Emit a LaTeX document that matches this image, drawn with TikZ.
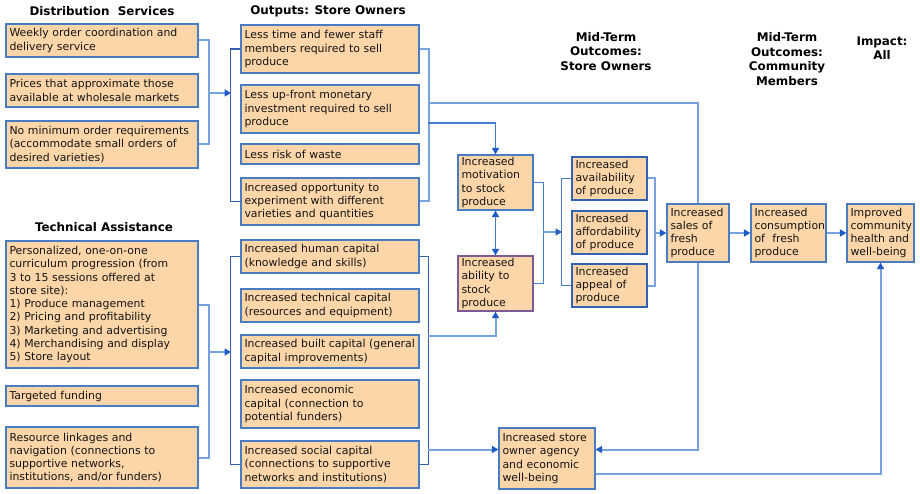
\documentclass[tikz,border=0pt]{standalone}
\usepackage{fontspec}
\setmainfont{DejaVu Sans}
\usetikzlibrary{arrows.meta}
\definecolor{peach}{RGB}{252,214,168}
\definecolor{bord}{RGB}{74,124,196}
\definecolor{bordd}{RGB}{50,98,180}
\definecolor{lnl}{RGB}{118,162,222}
\definecolor{lnm}{RGB}{70,125,205}
\definecolor{lndc}{RGB}{55,95,175}
\definecolor{arrb}{RGB}{30,91,198}
\definecolor{purp}{RGB}{123,91,149}
\definecolor{txt}{RGB}{20,20,20}
\newcommand\boxfont{\fontsize{10.9}{13.25}\selectfont}
\newcommand\hdrfont{\bfseries\fontsize{11.9}{14.5}\selectfont}
\newcommand\bx[7][]{%
 \pgfmathsetmacro\myBoxW{#5-#3}\pgfmathsetmacro\myBoxH{#6-#4}\pgfmathsetmacro\myBoxT{#5-#3-7}%
 \pgfmathsetmacro\myBoxX{(#3+#5)/2}\pgfmathsetmacro\myBoxY{(#4+#6)/2}%
 \node[box,minimum width=\myBoxW pt,minimum height=\myBoxH pt,text width=\myBoxT pt,#1] (#2) at (\myBoxX,\myBoxY) {#7};}
\tikzset{
 box/.style={draw=bord, line width=1.2pt, fill=peach, inner xsep=3.5pt, inner ysep=1pt, align=left,
   font=\boxfont, text=txt},
 hdr/.style={font=\hdrfont, align=center, text=black},
 ln/.style={draw=lnl, line width=2pt},
 lnmid/.style={draw=lnm, line width=1.6pt},
 lnd/.style={draw=lndc, line width=1.2pt},
 arr/.style={-{Triangle[length=6.5pt,width=7pt,color=arrb]}},
 darr/.style={{Triangle[length=6.5pt,width=7pt,color=arrb]}-{Triangle[length=6.5pt,width=7pt,color=arrb]}}
}
\hyphenpenalty=10000
\exhyphenpenalty=10000
\begin{document}
\begin{tikzpicture}[x=1pt,y=-1pt]
\useasboundingbox (0,0) rectangle (920,494);
\fill[white] (0,0) rectangle (920,494);
% headers
\node[hdr] (h1) at (102,11) {Distribution\ \ Services};
\node[hdr] (h2) at (328,11) {Outputs: Store Owners};
\node[hdr] (h3) at (104,227) {Technical Assistance};
\node[hdr] (h4) at (606,51.5) {Mid-Term\\Outcomes:\\Store Owners};
\node[hdr] (h5) at (787,59) {Mid-Term\\Outcomes:\\Community\\Members};
\node[hdr] (h6) at (882,48) {Impact:\\All};
% distribution services
\bx{d1}{6}{24}{198}{57}{Weekly order coordination and\\delivery service}
\bx{d2}{6}{74}{198}{107}{Prices that approximate those\\available at wholesale markets}
\bx{d3}{6}{121}{198}{168}{No minimum order requirements\\(accommodate small orders of\\desired varieties)}
% outputs store owners
\bx{o1}{241}{25}{419}{73}{Less time and fewer staff\\members required to sell\\produce}
\bx{o2}{241}{85}{419}{133}{Less up-front monetary\\investment required to sell\\produce}
\bx{o3}{241}{144}{419}{164}{Less risk of waste}
\bx{o4}{241}{178}{419}{225}{Increased opportunity to\\experiment with different\\varieties and quantities}
% technical assistance
\bx{ta1}{6}{241}{198}{368}{Personalized, one-on-one\\curriculum progression (from\\3 to 15 sessions offered at\\store site):\\1) Produce management\\2) Pricing and profitability\\3) Marketing and advertising\\4) Merchandising and display\\5) Store layout}
\bx{ta2}{6}{386}{198}{406}{Targeted funding}
\bx{ta3}{6}{427}{198}{488}{Resource linkages and\\navigation (connections to\\supportive networks,\\institutions, and/or funders)}
% technical outputs
\bx{t1}{241}{240}{419}{273}{Increased human capital\\(knowledge and skills)}
\bx{t2}{241}{289}{419}{322}{Increased technical capital\\(resources and equipment)}
\bx{t3}{241}{335}{419}{368}{Increased built capital (general\\capital improvements)}
\bx{t4}{241}{380}{419}{428}{Increased economic\\capital (connection to\\potential funders)}
\bx{t5}{241}{441}{419}{488}{Increased social capital\\(connections to supportive\\networks and institutions)}
% mid-term store owners
\bx{mot}{458}{155}{533}{210}{Increased\\motivation\\to stock\\produce}
\bx[draw=purp]{abl}{458}{256}{533}{311}{Increased\\ability to\\stock\\produce}
\bx[draw=bordd]{av}{572}{157}{647}{200}{Increased\\availability\\of produce}
\bx[draw=bordd]{af}{572}{211}{647}{254}{Increased\\affordability\\of produce}
\bx[draw=bordd]{ap}{572}{264}{647}{307}{Increased\\appeal of\\produce}
\bx{sales}{667}{204}{729}{262}{Increased\\sales of\\fresh\\produce}
\bx{cons}{751}{204}{826}{262}{Increased\\consumption\\of\ \ fresh\\produce}
\bx{imp}{847}{204}{914}{262}{Improved\\community\\health and\\well-being}
\bx{agency}{499}{428}{595}{489}{Increased store\\owner agency\\and economic\\well-being}
% connectors: distribution
\draw[ln] (d1.east) -- ++(10,0) |- (d3.east);
\coordinate (dj) at (208,93);
\coordinate (oj) at (231,93);
\draw[ln,arr] (dj) -- (oj);
\draw[lnd] (o1.west) -- ++(-10,0) |- (o4.west);
\draw[ln] (o1.east) -- ++(9,0) |- (o4.east);
\coordinate (ob1) at (428,103);
\coordinate (ob2) at (428,123);
\draw[ln] (ob1) -| (sales.north);
\draw[lnmid,arr] (ob2) -| (mot.north);
\draw[lnmid,darr] (mot.south) -- (abl.north);
\draw[lnmid] (mot.east) -- ++(10,0) |- (abl.east);
\coordinate (mj) at (543,232);
\coordinate (aj) at (562,232);
\draw[ln,arr] (mj) -- (aj);
\draw[lnmid] (av.west) -- ++(-10,0) |- (ap.west);
\draw[ln] (av.east) -- ++(7,0) |- (ap.east);
\coordinate (rj) at (654,233);
\draw[ln,arr] (rj) -- (sales.west);
\draw[ln,arr] (sales.east) -- (cons.west);
\draw[ln,arr] (cons.east) -- (imp.west);
\draw[ln,arr] (sales.south) |- ([yshift=9pt]agency.east);
\draw[ln,arr] ([yshift=-15pt]agency.east) -| (imp.south);
% connectors: technical
\draw[ln] (ta1.east) -- ++(10,0) |- (ta3.east);
\coordinate (tj) at (208,352);
\coordinate (tk) at (231,352);
\draw[ln,arr] (tj) -- (tk);
\draw[lnd] (t1.west) -- ++(-10,0) |- (t5.west);
\draw[lnd] (t1.east) -- ++(9,0) |- (t5.east);
\coordinate (tb1) at (428,336);
\coordinate (tb2) at (428,449.5);
\draw[ln,arr] (tb1) -| (abl.south);
\draw[ln,arr] (tb2) -- ([yshift=9pt]agency.west);
\end{tikzpicture}
\end{document}
